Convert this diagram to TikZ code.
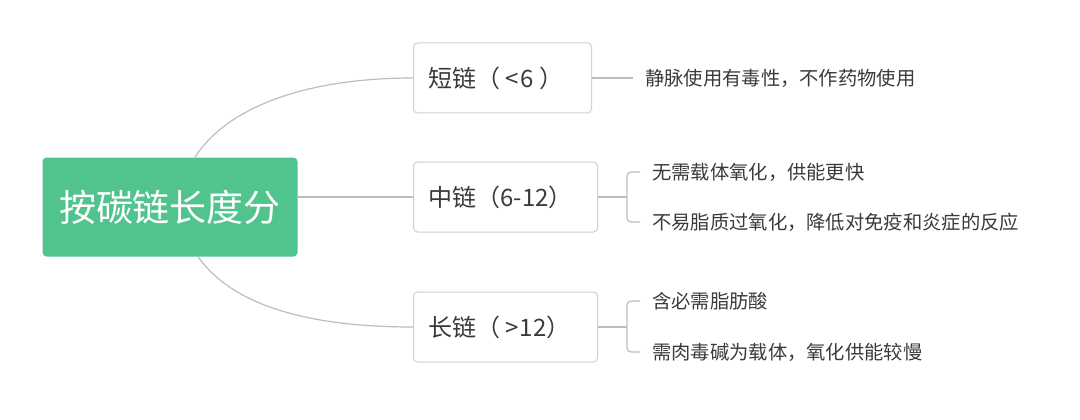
\documentclass[tikz,border=0pt]{standalone}
\usepackage{fontspec}
\setmainfont{Noto Sans CJK SC}
\usetikzlibrary{positioning, calc}

\definecolor{rootgreen}{HTML}{50C48C}
\definecolor{boxline}{HTML}{D0D0D0}
\definecolor{linkgray}{HTML}{BDBDBD}
\definecolor{textgray}{HTML}{3A3A3A}

\tikzset{
    rootbox/.style={fill=rootgreen, rounded corners=4pt, text=white,
        minimum width=255pt, minimum height=99pt,
        font=\fontsize{37}{42}\selectfont},
    chainbox/.style={draw=boxline, line width=1pt, rounded corners=4pt, text=textgray,
        anchor=west, inner xsep=15pt, minimum height=70pt, align=left,
        font=\fontsize{24}{28}\selectfont},
    leaf/.style={anchor=west, inner xsep=12pt, inner ysep=0pt, text=textgray,
        font=\fontsize{19.3}{23}\selectfont},
    link/.style={draw=linkgray, line width=1.2pt}
}

\begin{document}
\begin{tikzpicture}[x=1pt, y=-1pt]
                \useasboundingbox (0,0) rectangle (1080,420);

                \node[rootbox] (root) at (170,207) {按碳链长度分};

                \node[chainbox, text width=148pt] (short) at (413,78)
                    {短链（\hspace{5pt}<\hspace{2pt}6\hspace{5pt}）};
                \node[chainbox, text width=154pt] (mid)   at (413,197) {中链（6-12）};
                \node[chainbox, text width=154pt] (long)  at (413,327)
                    {长链（\hspace{5pt}>\hspace{1pt}12）};

                \coordinate (rtop) at ($(root.north)+(25,0)$);
                \coordinate (rbot) at ($(root.south)+(28,0)$);
                \draw[link] (rtop) .. controls (225,110) and (300,78) .. (short.west);
                \draw[link] (root.east |- mid.west) -- (mid.west);
                \draw[link] (rbot) .. controls (230,302) and (300,327) .. (long.west);

                \node[leaf] (shortA) at (633,78) {静脉使用有毒性，不作药物使用};
                \draw[link] (short.east) -- (shortA.west);

                \node[leaf] (midA) at (640,172) {无需载体氧化，供能更快};
                \node[leaf] (midB) at (640,222) {不易脂质过氧化，降低对免疫和炎症的反应};
                \coordinate (midfork) at ($(mid.east)+(29,0)$);
                \draw[link] (mid.east) -- (midfork);
                \draw[link, rounded corners=4pt] (midA.west) -| (midfork) |- (midB.west);

                \node[leaf] (longA) at (640,301) {含必需脂肪酸};
                \node[leaf] (longB) at (640,352) {需肉毒碱为载体，氧化供能较慢};
                \coordinate (longfork) at ($(long.east)+(29,0)$);
                \draw[link] (long.east) -- (longfork);
                \draw[link, rounded corners=4pt] (longA.west) -| (longfork) |- (longB.west);
\end{tikzpicture}
\end{document}
